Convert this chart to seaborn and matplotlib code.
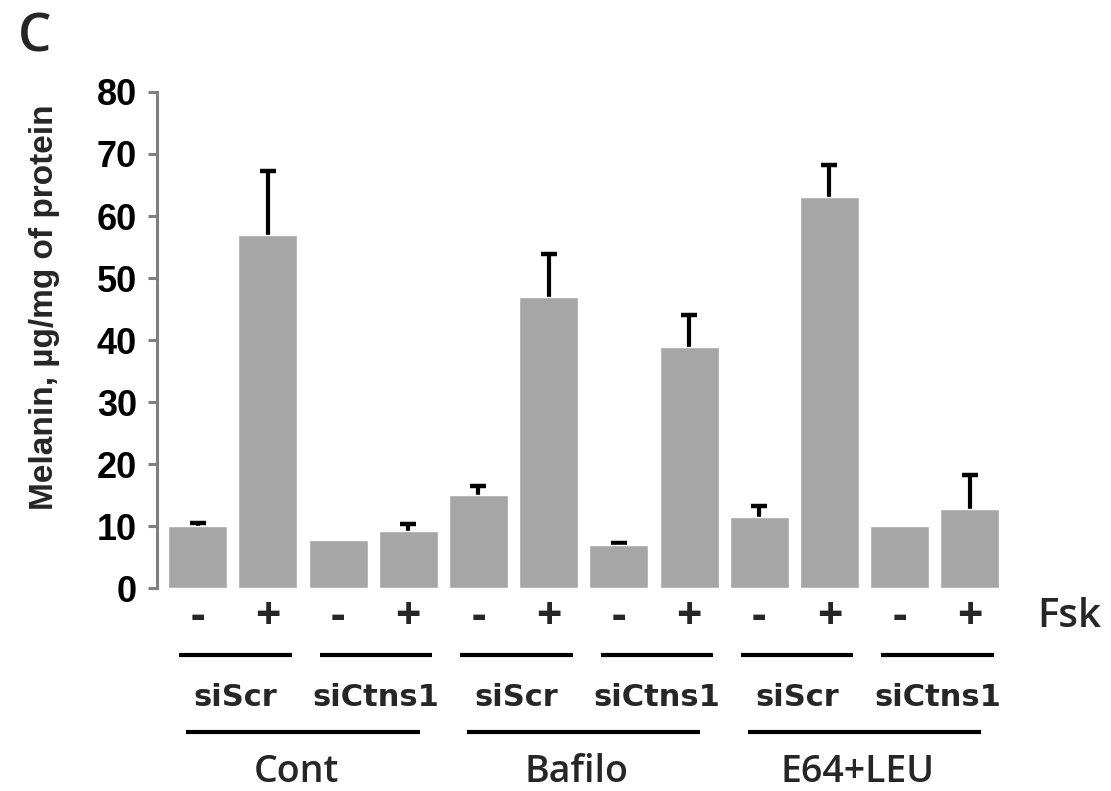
import numpy as np
import pandas as pd
import matplotlib
matplotlib.use("Agg")
import matplotlib.pyplot as plt
import matplotlib.transforms as mtransforms
import seaborn as sns

# values
treatments = ["Cont", "Bafilo", "E64+LEU"]
sirnas = ["siScr", "siCtns1"]
fsk = ["-", "+"]
melanin = [10.0, 57.0, 7.8, 9.2, 15.0, 47.0, 7.0, 38.9, 11.4, 63.1, 10.0, 12.7]
err_up = [0.5, 10.2, 0.0, 1.1, 1.4, 6.9, 0.3, 5.2, 1.9, 5.2, 0.0, 5.5]
y_ticks = [0, 10, 20, 30, 40, 50, 60, 70, 80]

rows = []
for t in treatments:
    for s in sirnas:
        for f in fsk:
            rows.append((t, s, f))
df = pd.DataFrame(rows, columns=["treatment", "sirna", "fsk"])
df["melanin"] = melanin
df["err"] = err_up
df["bar"] = [f"{t} {s} {f}" for t, s, f in rows]

sns.set_theme(style="white")
plt.rcParams["font.family"] = ["Liberation Sans", "DejaVu Sans"]
OPEN = ["Open Sans", "DejaVu Sans"]

fig = plt.figure(figsize=(11.11, 7.91), dpi=100)
ax = fig.add_axes([0.1413, 0.2566, 0.7683, 0.6271])

sns.barplot(data=df, x="bar", y="melanin", order=list(df["bar"]),
            color="#a6a6a6", saturation=1, width=0.84, errorbar=None,
            ax=ax, zorder=2)

# upper error bars only
keep = df["err"] > 0
xpos = np.arange(len(df))[keep.values]
eb = ax.errorbar(xpos, df.loc[keep, "melanin"],
                 yerr=[np.zeros(keep.sum()), df.loc[keep, "err"]],
                 fmt="none", ecolor="black", elinewidth=3,
                 capsize=6, capthick=3.2, zorder=1)
eb[1][0].set_visible(False)

ax.set_xlim(-0.58, 11.58)
ax.set_ylim(0, 80)
ax.set_yticks(y_ticks)
ax.set_xticks([])
ax.set_xlabel("")
ax.set_ylabel("")
for side in ["top", "right", "bottom"]:
    ax.spines[side].set_visible(False)
ax.spines["left"].set_color("#808080")
ax.spines["left"].set_linewidth(2.2)
ax.tick_params(axis="y", which="major", left=True, length=6.5, width=2.2,
               color="#808080", pad=8, labelsize=26, labelcolor="black")
for lab in ax.get_yticklabels():
    lab.set_fontweight("bold")

fig.text(45 / 1111, 1 - 307 / 791, "Melanin, \u00b5g/mg of protein",
         rotation=90, ha="center", va="center", fontsize=24,
         fontweight="bold", family=["Liberation Sans", "DejaVu Sans"])
fig.text(35 / 1111, 1 - 38 / 791, "C", ha="center", va="center",
         fontsize=38, fontweight="semibold", family=OPEN)

trans = mtransforms.blended_transform_factory(ax.transData, ax.transAxes)

# Fsk signs
for i, f in enumerate(df["fsk"]):
    ax.text(i, -0.0585, f, transform=trans, ha="center", va="center",
            fontsize=32, fontweight="bold", family=OPEN, clip_on=False)
ax.text(12.42, -0.0585, "Fsk", transform=trans, ha="center", va="center",
        fontsize=29, fontweight="semibold", family=OPEN, clip_on=False)

# siRNA brackets
for k in range(6):
    c = 2 * k + 0.54
    ax.plot([c - 0.8, c + 0.8], [-0.135, -0.135], transform=trans,
            color="black", lw=3, clip_on=False, solid_capstyle="butt")
    ax.text(c, -0.22, sirnas[k % 2], transform=trans, ha="center",
            va="center", fontsize=22, fontweight="bold",
            family=["DejaVu Sans"], clip_on=False)

# treatment brackets
for k, t in enumerate(treatments):
    c = 4 * k + 1.5
    ax.plot([c - 1.66, c + 1.66], [-0.29, -0.29], transform=trans,
            color="black", lw=3, clip_on=False, solid_capstyle="butt")
    ax.text(c - 0.1, -0.371, t, transform=trans, ha="center", va="center",
            fontsize=27, fontweight="semibold", family=OPEN, clip_on=False)

fig.savefig("out.png", dpi=100, facecolor="white")
